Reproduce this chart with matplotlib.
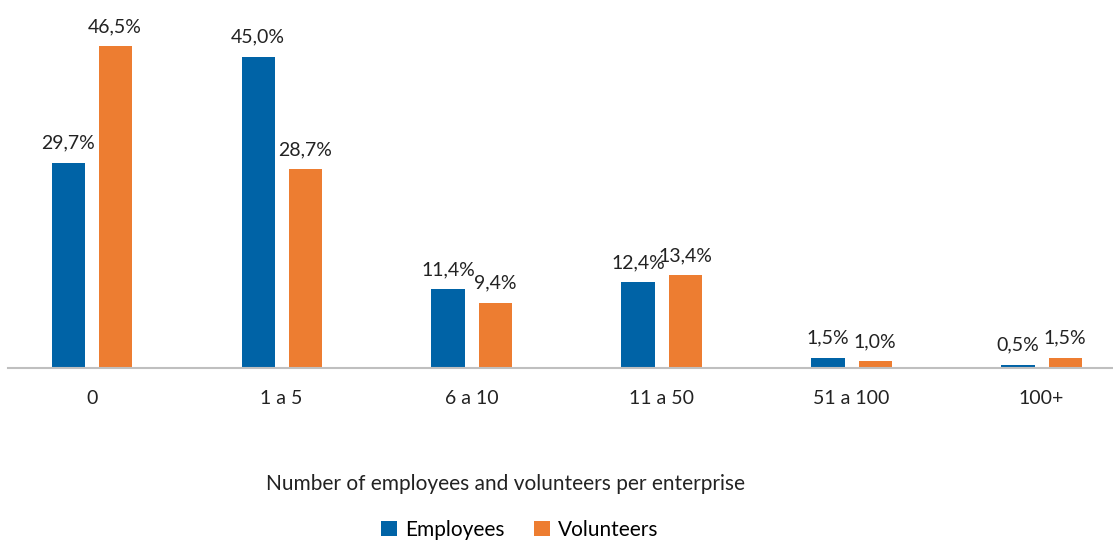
import numpy as np
import matplotlib.pyplot as plt

plt.rcParams['font.family'] = ['Lato', 'DejaVu Sans']

categories = ['0', '1 a 5', '6 a 10', '11 a 50', '51 a 100', '100+']
employees = [29.7, 45.0, 11.4, 12.4, 1.5, 0.5]
volunteers = [46.5, 28.7, 9.4, 13.4, 1.0, 1.5]

blue = '#0063a6'
orange = '#ed7d31'

fig = plt.figure(figsize=(11.13, 5.41), dpi=100)
ax = fig.add_axes([8 / 1113, 173 / 541, 1 - 8 / 1113, 1 - 173 / 541])

x = np.arange(len(categories))
w = 0.174
off = 0.124
b1 = ax.bar(x - off, employees, w, color=blue, label='Employees')
b2 = ax.bar(x + off, volunteers, w, color=orange, label='Volunteers')

for bars, vals in ((b1, employees), (b2, volunteers)):
    for r, v in zip(bars, vals):
        ax.annotate(f'{v:.1f}%'.replace('.', ','),
                    (r.get_x() + r.get_width() / 2, r.get_height()),
                    xytext=(0, 8), textcoords='offset points',
                    ha='center', va='bottom', fontsize=14, color='#222222')

ax.set_xlim(-0.44, 5.376)
ax.set_ylim(0, 53.2)
ax.set_xticks(x)
ax.set_xticklabels(categories, fontsize=14, color='#222222')
ax.tick_params(axis='x', length=0, pad=16)
ax.set_yticks([])
for s in ['top', 'right', 'left']:
    ax.spines[s].set_visible(False)
ax.spines['bottom'].set_color('#bfbfbf')
ax.spines['bottom'].set_linewidth(1.5)

fig.text(505 / 1113, 1 - 484 / 541, 'Number of employees and volunteers per enterprise',
         ha='center', va='center', fontsize=15, color='#222222')
fig.legend(handles=[b1, b2], loc='center', bbox_to_anchor=(520 / 1113, 1 - 530 / 541),
           ncol=2, frameon=False, fontsize=15, handlelength=0.75, handleheight=0.75,
           columnspacing=1.4, handletextpad=0.4)

fig.savefig('out.png', dpi=100)
